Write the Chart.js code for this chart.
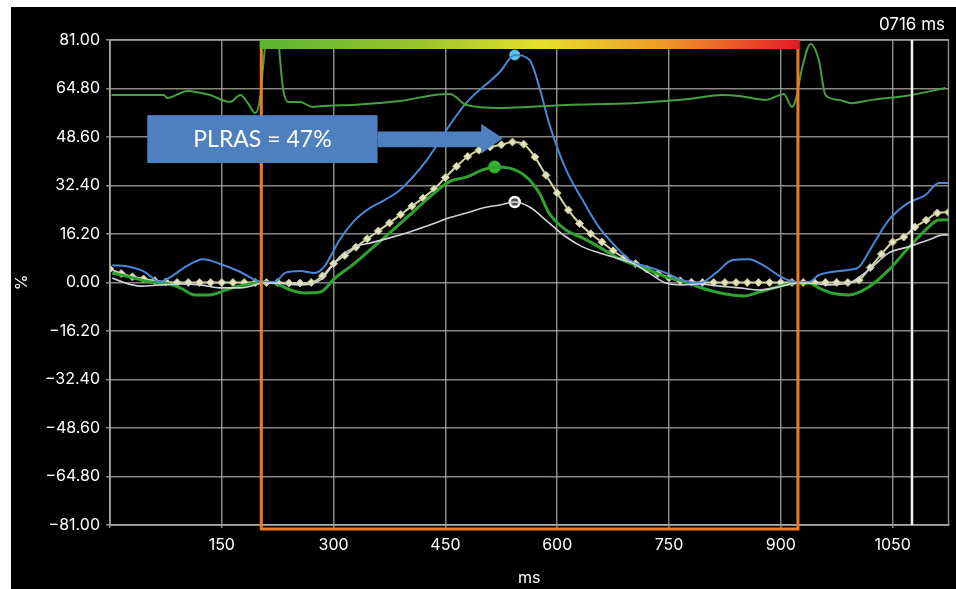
<!DOCTYPE html>
<html>
<head>
<meta charset="utf-8">
<script src="https://cdn.jsdelivr.net/npm/chart.js@4.4.1/dist/chart.umd.min.js"></script>
<style>
body{margin:0;background:#fff;}
#wrap{position:absolute;left:11px;top:7px;width:945px;height:582px;background:#000;}
</style>
</head>
<body>
<div id="wrap"><canvas id="strain" width="945" height="582"></canvas></div>
<script>
// tick labels
var yTicks = [-81, -64.8, -48.6, -32.4, -16.2, 0, 16.2, 32.4, 48.6, 64.8, 81];
var xTicks = [0, 150, 300, 450, 600, 750, 900, 1050];

// ecg trace (top)
var ecgMs  = [2, 72, 77, 104, 134, 161, 175, 185, 195, 201, 205, 211, 218, 224, 232, 239, 255, 272, 282, 330, 389, 440, 456, 478, 523, 612, 701, 777, 821, 844, 880, 898, 904, 915, 920, 928, 940, 951, 960, 978, 995, 1022, 1067, 1089, 1121];
var ecgVal = [62.6, 62.6, 61.6, 64.0, 62.6, 60.3, 62.6, 59.9, 56.6, 61.0, 71.0, 85, 88, 85, 65.0, 60.3, 60.3, 58.6, 58.9, 59.4, 60.6, 62.8, 63.0, 59.3, 58.3, 59.3, 59.9, 61.3, 62.6, 62.3, 61.0, 62.6, 63.0, 58.6, 61.0, 71.0, 79.7, 74.3, 62.6, 61.0, 59.9, 61.0, 62.3, 63.3, 65.0];

// blue segment curve
var blueMs  = [3, 27, 47, 61, 67, 81, 101, 125, 148, 175, 195, 204, 221, 235, 255, 275, 288, 308, 329, 349, 369, 389, 425, 456, 478, 523, 543, 563, 576, 589, 612, 634, 656, 679, 701, 723, 746, 768, 790, 813, 835, 857, 880, 901, 920, 938, 951, 968, 991, 1005, 1022, 1045, 1071, 1094, 1112, 1125];
var blueVal = [5.8, 5.2, 3.5, 0.8, 0.2, 1.8, 5.2, 7.8, 6.2, 3.5, 0.8, 0.2, 0.2, 3.2, 3.8, 3.2, 5.5, 14.2, 20.9, 24.9, 27.6, 30.9, 40.9, 52.6, 60.0, 70.3, 76.0, 74.3, 65.3, 53.3, 37.6, 27.6, 18.5, 11.9, 6.8, 5.2, 3.2, 0.8, -0.2, 3.2, 7.5, 7.8, 5.2, 1.8, 0.2, 0.2, 2.5, 3.5, 4.2, 5.2, 11.9, 20.9, 26.6, 29.2, 33.2, 33.2];

// global strain curve with markers
var avgMs  = [0, 15, 30, 45, 60, 75, 90, 105, 120, 135, 150, 165, 180, 195, 210, 225, 240, 255, 270, 285, 300, 315, 330, 345, 360, 375, 390, 405, 420, 435, 450, 465, 480, 495, 510, 525, 540, 555, 570, 585, 600, 615, 630, 645, 660, 675, 690, 705, 720, 735, 750, 765, 780, 795, 810, 825, 840, 855, 870, 885, 900, 915, 930, 945, 960, 975, 990, 1005, 1020, 1035, 1050, 1065, 1080, 1095, 1110, 1125];
var avgVal = [4.5, 3.0, 1.9, 1.2, 0.6, 0.2, 0, 0, 0, 0, 0, 0, 0, 0, 0, 0, -0.2, -0.2, 0, 2.2, 6.3, 9.0, 11.8, 14.6, 17.2, 19.9, 22.7, 25.5, 28.2, 31.2, 35.1, 38.8, 42.1, 44.2, 45.3, 46.0, 46.9, 46.2, 41.9, 35.8, 29.9, 24.2, 19.7, 16.3, 13.5, 10.6, 8.2, 6.3, 4.5, 3.0, 1.6, 0.6, 0.1, 0, 0, 0, 0, 0, 0, 0, 0, 0, 0, 0, 0, 0, 0, 0.8, 5.0, 9.5, 13.5, 15.2, 18.5, 20.8, 23.2, 23.5];

// green segment curve
var greenMs  = [3, 27, 54, 74, 94, 114, 134, 148, 168, 195, 204, 221, 242, 261, 282, 302, 322, 349, 375, 402, 429, 456, 478, 500, 516, 536, 559, 576, 589, 612, 634, 656, 679, 701, 723, 746, 768, 777, 790, 813, 835, 851, 871, 891, 911, 920, 938, 951, 968, 991, 1018, 1045, 1071, 1094, 1112, 1125];
var greenVal = [3.2, 1.8, 0.2, -0.2, -1.8, -4.2, -4.2, -3.2, -1.5, -0.2, 0.2, -0.2, -2.5, -3.5, -3.2, 1.5, 5.2, 10.9, 16.5, 22.5, 28.6, 33.8, 35.2, 37.6, 38.6, 38.2, 35.2, 29.9, 23.2, 17.5, 14.9, 11.9, 8.5, 6.2, 4.2, 1.8, 0.5, -0.2, -1.5, -3.2, -4.2, -4.5, -3.2, -1.8, -0.5, -0.2, -0.2, -1.8, -3.5, -4.2, -1.5, 4.2, 11.5, 17.5, 20.9, 21.0];

// white segment curve
var whiteMs  = [3, 21, 41, 67, 94, 121, 148, 175, 195, 204, 221, 255, 282, 308, 329, 349, 375, 402, 429, 456, 478, 500, 523, 543, 563, 589, 612, 634, 656, 679, 701, 723, 746, 768, 790, 817, 844, 871, 897, 920, 938, 964, 991, 1018, 1045, 1071, 1098, 1118, 1125];
var whiteVal = [1.5, -0.2, -1.2, -0.8, -0.5, -0.8, -1.8, -1.8, -0.8, -0.2, -0.2, -0.8, 0.8, 8.5, 11.9, 13.2, 14.9, 16.9, 19.2, 21.7, 23.2, 24.9, 25.9, 26.9, 25.2, 19.9, 15.2, 11.9, 9.9, 8.2, 6.5, 3.2, -0.2, -0.8, -0.5, -1.2, -1.8, -2.5, -1.5, -0.2, -0.2, -0.8, -0.2, 4.2, 9.9, 11.9, 14.2, 15.9, 15.9];

// peak dots: blue, green, white
var peakMs  = [543, 516, 543];
var peakVal = [76.0, 38.6, 26.9];

var regionMs = [203, 923];   // orange box
var cursorMs = 1076;         // white cursor
var plras = 47;

var gridColor = 'rgba(170,170,160,0.8)';

function pts(ms, v){
  return ms.map(function(m, i){ return {x: m, y: v[i]}; });
}

function line(ms, v, color, w){
  return {data: pts(ms, v), showLine: true, borderColor: color, borderWidth: w,
          pointRadius: 0, tension: 0.4, cubicInterpolationMode: 'monotone'};
}

var overlay = {
  id: 'overlay',
  afterDatasetsDraw: function(chart){
    var c = chart.ctx, a = chart.chartArea;
    var xs = chart.scales.x, ys = chart.scales.y;
    c.save();
    // frame
    c.strokeStyle = gridColor;
    c.lineWidth = 1.5;
    c.strokeRect(a.left, a.top, a.right - a.left, a.bottom - a.top);

    // cursor
    var wx = xs.getPixelForValue(cursorMs);
    c.strokeStyle = '#f4f4f4';
    c.lineWidth = 2.5;
    c.beginPath(); c.moveTo(wx, a.top); c.lineTo(wx, a.bottom); c.stroke();

    // orange region
    var l = xs.getPixelForValue(regionMs[0]), r = xs.getPixelForValue(regionMs[1]);
    c.strokeStyle = '#f07a22';
    c.lineWidth = 3;
    c.beginPath();
    c.moveTo(l, a.top); c.lineTo(l, a.bottom + 4); c.lineTo(r, a.bottom + 4); c.lineTo(r, a.top);
    c.stroke();

    var g = c.createLinearGradient(l, 0, r, 0);
    g.addColorStop(0, '#5ab532');
    g.addColorStop(0.3, '#9cc52c');
    g.addColorStop(0.52, '#e6e02c');
    g.addColorStop(0.75, '#f09a2a');
    g.addColorStop(1, '#e21d24');
    c.fillStyle = g;
    c.fillRect(l - 1.5, a.top, r - l + 3, 9);

    // PLRAS box + arrow
    var bx0 = xs.getPixelForValue(50), bx1 = xs.getPixelForValue(359);
    var by0 = ys.getPixelForValue(55.9), by1 = ys.getPixelForValue(39.9);
    c.fillStyle = '#4e7fbf';
    c.fillRect(bx0, by0, bx1 - bx0, by1 - by0);
    var hx = xs.getPixelForValue(498), tx = xs.getPixelForValue(527);
    var ty = ys.getPixelForValue(48.2);
    c.beginPath();
    c.moveTo(bx1, ys.getPixelForValue(50.4));
    c.lineTo(hx, ys.getPixelForValue(50.4));
    c.lineTo(hx, ys.getPixelForValue(53.0));
    c.lineTo(tx, ty);
    c.lineTo(hx, ys.getPixelForValue(43.0));
    c.lineTo(hx, ys.getPixelForValue(45.2));
    c.lineTo(bx1, ys.getPixelForValue(45.2));
    c.closePath();
    c.fill();
    c.fillStyle = '#fff';
    c.font = '23px Lato';
    c.textAlign = 'center';
    c.textBaseline = 'middle';
    c.fillText('PLRAS = ' + plras + '%', (bx0 + bx1) / 2, (by0 + by1) / 2);

    // time readout
    c.font = '17px Inter';
    c.textAlign = 'right';
    c.fillText('0716 ms', 934, 18);
    c.restore();
  }
};

var ctx = document.getElementById('strain').getContext('2d');
var chart = new Chart(ctx, {
  type: 'scatter',
  data: {
    datasets: [
      line(ecgMs, ecgVal, '#44a040', 2),
      line(whiteMs, whiteVal, '#cfd0d8', 1.6),
      line(blueMs, blueVal, '#4a86d6', 2),
      line(greenMs, greenVal, '#2ea42e', 3),
      {data: pts(avgMs, avgVal), showLine: true, borderColor: '#d6d3a6', borderWidth: 2,
       tension: 0.4, cubicInterpolationMode: 'monotone',
       pointStyle: 'rectRot', pointRadius: 4, pointBackgroundColor: '#e2e2bc', pointBorderColor: '#b8b88c', pointBorderWidth: 1},
      {data: pts(peakMs, peakVal), showLine: false,
       pointRadius: [5, 6, 5],
       pointBackgroundColor: ['#52c6e4', '#34b234', '#555555'],
       pointBorderColor: ['#52c6e4', '#34b234', '#ffffff'],
       pointBorderWidth: [1, 1, 2.5]}
    ]
  },
  options: {
    responsive: false,
    devicePixelRatio: 1,
    animation: false,
    layout: {padding: {top: 33, right: 6, left: 0, bottom: 0}},
    plugins: {legend: {display: false}, tooltip: {enabled: false}},
    scales: {
      x: {
        type: 'linear', min: 0, max: 1125,
        afterBuildTicks: function(s){ s.ticks = xTicks.map(function(v){ return {value: v}; }); },
        afterFit: function(s){ s.height = 64; },
        ticks: {color: '#fff', font: {family: 'Inter', size: 16}, padding: 8,
                callback: function(v){ return v === 0 ? '' : String(v); }},
        grid: {color: gridColor, lineWidth: 1.5, tickLength: 3},
        border: {color: gridColor, width: 1.5},
        title: {display: true, text: 'ms', color: '#fff', font: {family: 'Inter', size: 16}, padding: {top: 1, bottom: 1}}
      },
      y: {
        min: -81, max: 81,
        afterBuildTicks: function(s){ s.ticks = yTicks.map(function(v){ return {value: v}; }); },
        afterFit: function(s){ s.width = 99; },
        ticks: {color: '#fff', font: {family: 'Inter', size: 16}, padding: 6,
                callback: function(v){ return (v < 0 ? '\u2212' : '') + Math.abs(v).toFixed(2); }},
        grid: {color: gridColor, lineWidth: 1.5, tickLength: 4},
        border: {color: gridColor, width: 1.5},
        title: {display: true, text: '%', color: '#fff', font: {family: 'Inter', size: 16}, padding: {top: 2, bottom: 2}}
      }
    }
  },
  plugins: [overlay]
});
</script>
</body>
</html>
